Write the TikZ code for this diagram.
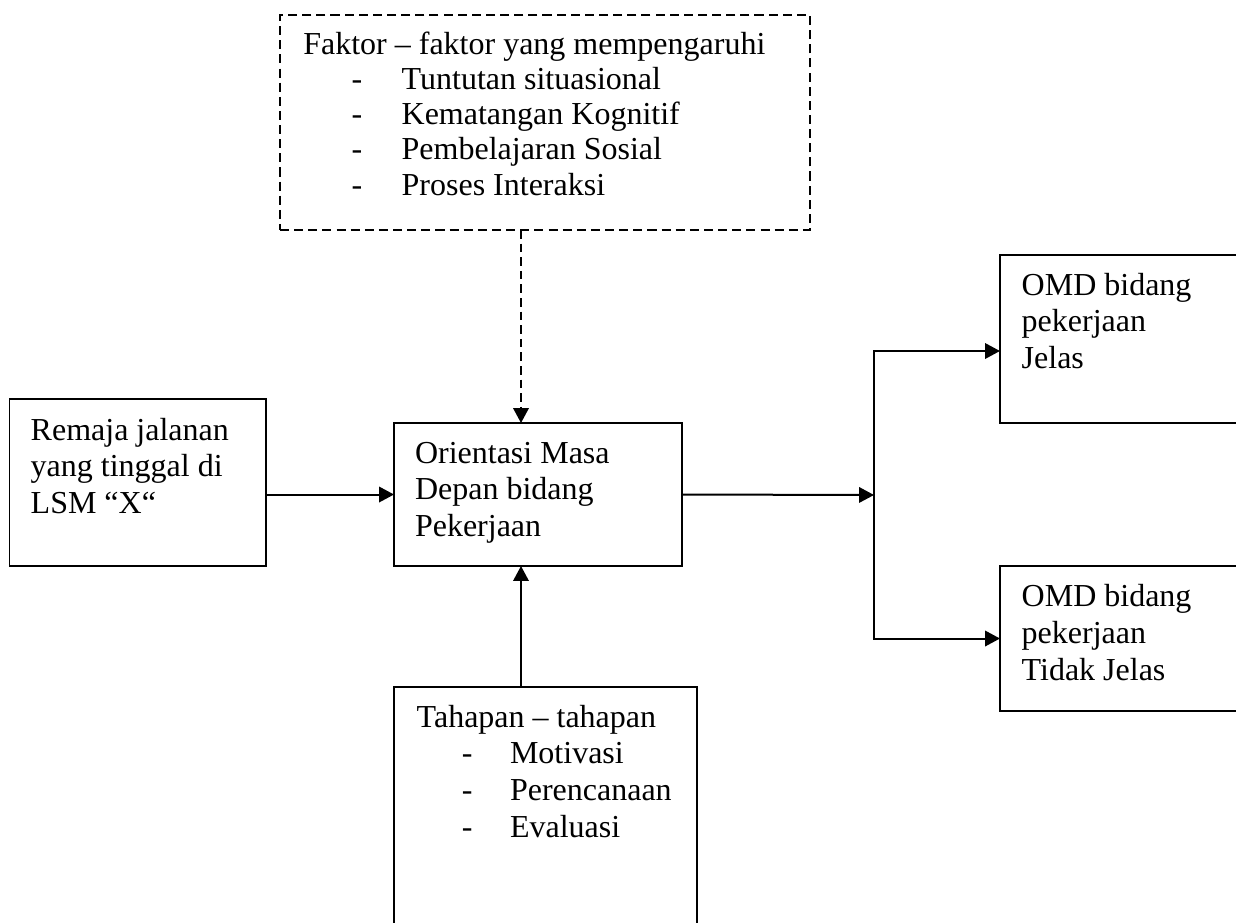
\documentclass[tikz,border=0pt]{standalone}
\usepackage{fontspec}
\setmainfont{Liberation Serif}
\usetikzlibrary{arrows.meta}
\begin{document}
\begin{tikzpicture}[x=0.375pt,y=-0.375pt,
  box/.style={draw, line width=0.7pt, inner sep=0pt, outer sep=0pt, anchor=north west},
  dbox/.style={box, dash pattern=on 3.4pt off 1.9pt},
  txt/.style={inner sep=0pt, outer sep=0pt, anchor=base west, font=\fontsize{12pt}{13.75pt}\selectfont},
  txttop/.style={txt, font=\fontsize{12pt}{13.24pt}\selectfont},
  arr/.style={line width=0.75pt, -{Triangle[length=5.6pt,width=5.8pt]}},
  dasharr/.style={arr, dash pattern=on 3.2pt off 1.9pt}]
\useasboundingbox (0,0) rectangle (1236,922);
\clip (0,0) rectangle (1236,922);
\fill[white] (0,0) rectangle (1236,922);

% boxes
\node[dbox, minimum width=198.75pt, minimum height=80.63pt] (faktor) at (280,15) {};
\node[box, minimum width=96.19pt, minimum height=62.63pt] (remaja) at (9.5,399) {};
\node[box, minimum width=108pt, minimum height=53.63pt] (orient) at (394,423) {};
\node[box, minimum width=97.5pt, minimum height=63pt] (omd1) at (1000,255) {};
\node[box, minimum width=97.5pt, minimum height=54.38pt] (omd2) at (1000,566) {};
\node[box, minimum width=113.63pt, minimum height=94.88pt] (tahapan) at (394,687) {};

% texts
\node[txttop] (faktortxt) at (303.3,54) {\begin{tabular}[t]{@{}l@{}l@{}}
\multicolumn{2}{@{}l@{}}{Faktor – faktor yang mempengaruhi}\\
\makebox[36.9pt][l]{\hspace*{18.15pt}-} & Tuntutan situasional\\
\makebox[36.9pt][l]{\hspace*{18.15pt}-} & Kematangan Kognitif\\
\makebox[36.9pt][l]{\hspace*{18.15pt}-} & Pembelajaran Sosial\\
\makebox[36.9pt][l]{\hspace*{18.15pt}-} & Proses Interaksi
\end{tabular}};
\node[txt] (remajatxt) at (30.7,440) {\begin{tabular}[t]{@{}l@{}}Remaja jalanan\\yang tinggal di\\LSM “X“\end{tabular}};
\node[txt] (orienttxt) at (415,463.3) {\begin{tabular}[t]{@{}l@{}}Orientasi Masa\\Depan bidang\\Pekerjaan\end{tabular}};
\node[txt] (omd1txt) at (1021.7,295) {\begin{tabular}[t]{@{}l@{}}OMD bidang\\pekerjaan\\Jelas\end{tabular}};
\node[txt] (omd2txt) at (1021.7,606.7) {\begin{tabular}[t]{@{}l@{}}OMD bidang\\pekerjaan\\Tidak Jelas\end{tabular}};
\node[txt] (tahapantxt) at (416.7,727) {\begin{tabular}[t]{@{}l@{}l@{}}
\multicolumn{2}{@{}l@{}}{Tahapan – tahapan}\\
\makebox[35pt][l]{\hspace*{16.9pt}-} & Motivasi\\
\makebox[35pt][l]{\hspace*{16.9pt}-} & Perencanaan\\
\makebox[35pt][l]{\hspace*{16.9pt}-} & Evaluasi
\end{tabular}};

% helper coordinates
\coordinate (ax) at (521,0);
\coordinate (j) at (874,495);
\coordinate (y1) at (0,351);

% connectors
\draw[dasharr] (faktor.south -| ax) -- (orient.north -| ax);
\draw[arr] (tahapan.north -| ax) -- (orient.south -| ax);
\draw[arr] (orient.west -| remaja.east) -- (orient.west);
\draw[arr] (orient.east) -- (j);
\draw[arr] (j) |- (omd1.west |- y1);
\draw[arr] (j) |- (omd2.west);
\end{tikzpicture}
\end{document}
